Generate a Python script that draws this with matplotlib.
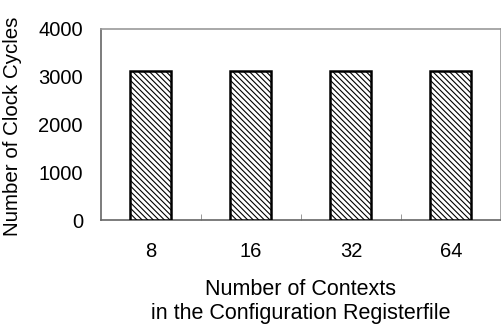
import numpy as np
import matplotlib.pyplot as plt

plt.rcParams['font.family'] = ['Liberation Sans', 'DejaVu Sans']
plt.rcParams['hatch.linewidth'] = 0.8
plt.rcParams['hatch.color'] = '#333333'

# Data
contexts = ['8', '16', '32', '64']
cycles = [3120, 3120, 3120, 3120]

fig = plt.figure(figsize=(5.02, 3.27), dpi=100)
ax = fig.add_axes([101 / 502, 1 - 220 / 327, 400 / 502, 191 / 327])

x = np.arange(len(contexts))
ax.bar(x, cycles, width=0.41, color='white', edgecolor='black',
       linewidth=1.8, hatch='\\\\\\\\\\\\', zorder=3)

ax.set_xlim(-0.5, len(contexts) - 0.5)
ax.set_ylim(0, 4000)
ax.set_yticks([0, 1000, 2000, 3000, 4000])
ax.set_xticks(x)
ax.set_xticklabels(contexts)
ax.set_xticks(np.arange(0.5, len(contexts) - 1, 1), minor=True)
ax.tick_params(axis='x', which='major', length=0, pad=16, labelsize=14.5)
ax.tick_params(axis='x', which='minor', length=4, direction='in', color='#888888')
ax.tick_params(axis='y', length=0, pad=13, labelsize=14.5)

for s in ['top', 'right']:
    ax.spines[s].set_color('#999999')
for s in ['left', 'bottom']:
    ax.spines[s].set_color('#666666')
for s in ax.spines.values():
    s.set_linewidth(1.2)

ax.set_ylabel('Number of Clock Cycles', fontsize=14.8)
ax.yaxis.set_label_coords(-0.197, 0.49)
ax.set_xlabel('Number of Contexts\nin the Configuration Registerfile',
              fontsize=15.5, labelpad=13, linespacing=1.15)

fig.savefig('out.png', dpi=100)
